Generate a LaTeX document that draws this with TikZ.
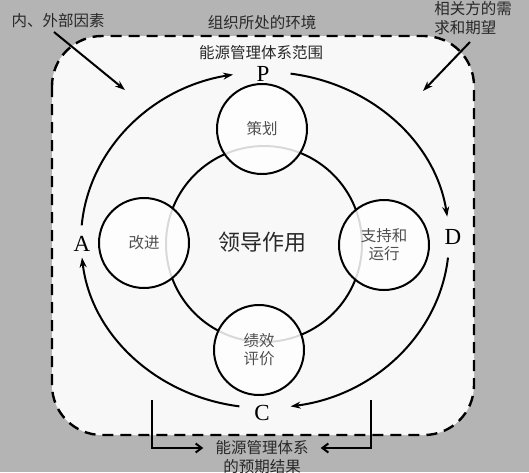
\documentclass[tikz,border=0pt]{standalone}
\usepackage{fontspec}
\setmainfont{Liberation Serif}
\newfontfamily\cjk{Noto Sans CJK SC}
\usetikzlibrary{arrows.meta,calc}
\definecolor{bgray}{RGB}{180,180,180}
\definecolor{innerbg}{RGB}{248,248,248}
\definecolor{txtdark}{RGB}{40,40,40}
\definecolor{txtgray}{RGB}{80,80,80}
\begin{document}
\begin{tikzpicture}[x=1pt,y=-1pt,
  cyc/.style={line width=2pt,-{Stealth[length=10pt,width=7pt]}},
  ext/.style={line width=2pt,-{Stealth[length=10pt,width=7pt]}},
  brk/.style={line width=2pt,-{Straight Barb[length=6pt,width=9pt,line width=2pt]}},
  sc/.style={circle,draw=black,line width=2pt,fill=white,fill opacity=0.85,text opacity=1,
    minimum size=90pt,inner sep=0pt,align=center,text=txtgray,
    font=\cjk\fontsize{15.5}{18}\selectfont},
  lbl/.style={text=txtdark,align=center,inner sep=0pt,font=\cjk\fontsize{15.5}{19}\selectfont},
  pdca/.style={text=black,inner sep=0pt,font=\fontsize{23}{26}\selectfont}]
\useasboundingbox (0,0) rectangle (529,472);
\fill[bgray] (0,0) rectangle (529,472);
\draw[dash pattern=on 11pt off 7pt,line width=2.4pt,fill=innerbg,rounded corners=50pt]
  (52,36) rectangle (474,435);
% centre
\coordinate (O) at (265,240);
\draw[line width=2pt] (264,244) circle[radius=98];
\node[sc] (plan) at (262,129) {策划};
\node[sc] (impr) at (144,243) {改进};
\node[sc] (supp) at (384,245) {支持和\\运行};
\node[sc] (eval) at (259,350) {绩效\\评价};
\node[text=txtdark,font=\cjk\fontsize{22}{26}\selectfont] (lead) at (262,242) {领导作用};
% PDCA letters
\node[pdca] (P) at (263,74) {P};
\node[pdca] (D) at (453,237) {D};
\node[pdca] (C) at (262,413) {C};
\node[pdca] (A) at (82,244) {A};
% cycle arcs
\draw[cyc] (O) ++(185:184 and 168) arc[start angle=185,end angle=260,x radius=184,y radius=168];
\draw[cyc] (O) ++(278:184 and 168) arc[start angle=278,end angle=352,x radius=184,y radius=168];
\draw[cyc] (O) ++(6:184 and 168) arc[start angle=6,end angle=82,x radius=184,y radius=168];
\draw[cyc] (O) ++(98:184 and 168) arc[start angle=98,end angle=174,x radius=184,y radius=168];
% outer labels
\node[lbl] (fac) at (58,21) {内、外部因素};
\node[lbl] (env) at (262,23) {组织所处的环境};
\node[lbl,align=left] (int) at (473,18) {相关方的需\\求和期望};
\node[lbl] (scope) at (261,53) {能源管理体系范围};
\node[lbl] (res) at (262,457) {能源管理体系\\的预期结果};
% external arrows
\coordinate (f1) at (54,32);
\coordinate (f2) at (125,90);
\coordinate (i1) at (470,42);
\coordinate (i2) at (423,91);
\draw[ext] (f1) -- (f2);
\draw[ext] (i1) -- (i2);
% result brackets
\coordinate (b1) at (152,400);
\coordinate (b2) at (371,400);
\draw[brk] (b1) |- ($(res.west)+(-12,-9)$);
\draw[brk] (b2) |- ($(res.east)+(12,-9)$);
\end{tikzpicture}
\end{document}
